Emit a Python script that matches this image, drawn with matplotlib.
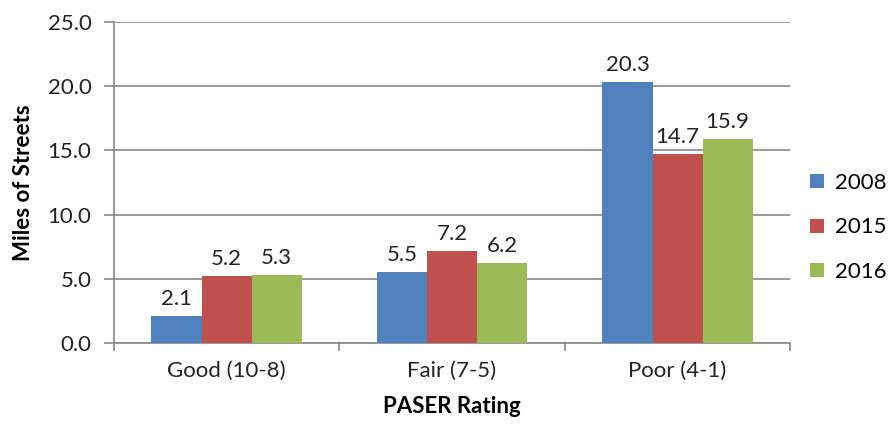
import numpy as np
from matplotlib import pyplot

categories = ['Good (10-8)', 'Fair (7-5)', 'Poor (4-1)']
years = ['2008', '2015', '2016']
miles_2008 = [2.1, 5.5, 20.3]
miles_2015 = [5.2, 7.2, 14.7]
miles_2016 = [5.3, 6.2, 15.9]
series = [miles_2008, miles_2015, miles_2016]
colors = ['#4F81BD', '#C0504D', '#9BBB59']

pyplot.rcParams['font.family'] = ['Lato', 'DejaVu Sans']
fs = 16

fig = pyplot.figure(figsize=(8.89, 4.28), dpi=100)
ax = fig.add_axes([0.128, 0.1986, 0.761, 0.75])

x = np.arange(len(categories))
width = 0.222
for i, (vals, year) in enumerate(zip(series, years)):
  pos = x + (i - 1) * width
  bars = ax.bar(pos, vals, width, color=colors[i], label=year, zorder=3)
  for b, v in zip(bars, vals):
    ax.annotate('%.1f' % v, (b.get_x() + b.get_width() / 2, v), xytext=(0, 5),
                textcoords='offset points', ha='center', va='bottom', fontsize=fs, color='#222222')

ax.set_xlim(-0.5, 2.5)
ax.set_ylim(0, 25)
ax.set_yticks(np.arange(0, 26, 5))
ax.set_yticklabels(['%.1f' % t for t in np.arange(0, 26, 5)])
ax.set_xticks(x)
ax.set_xticklabels(categories)
ax.set_xticks([-0.5, 0.5, 1.5, 2.5], minor=True)
ax.tick_params(axis='x', which='major', length=0, pad=13, labelsize=fs, labelcolor='#222222')
ax.tick_params(axis='x', which='minor', length=6, color='#878787', width=1.2)
ax.tick_params(axis='y', length=7, color='#878787', width=1.2, labelsize=fs, labelcolor='#222222', pad=9)
ax.grid(axis='y', color='#878787', linewidth=1.2, zorder=0)
for s in ['top', 'right']:
  ax.spines[s].set_visible(False)
for s in ['left', 'bottom']:
  ax.spines[s].set_color('#878787')
  ax.spines[s].set_linewidth(1.2)

ax.set_ylabel('Miles of Streets', fontsize=16, fontweight='bold', labelpad=10)
ax.set_xlabel('PASER Rating', fontsize=16, fontweight='bold', labelpad=11)

ax.legend(loc='center left', bbox_to_anchor=(1.0, 0.36), frameon=False, fontsize=fs,
          handlelength=0.6, handleheight=0.6, labelspacing=1.1, handletextpad=0.5)

pyplot.savefig('out.png', dpi=100)
pyplot.close()
